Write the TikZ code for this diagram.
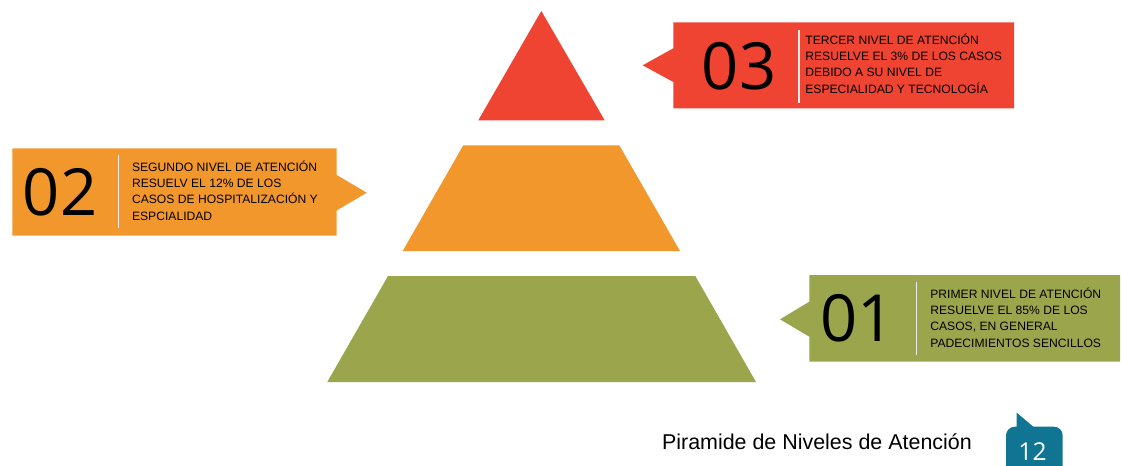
\documentclass[tikz,border=0pt]{standalone}
\usepackage{fontspec}
\setmainfont{Liberation Sans}
\newfontfamily\numfont{Open Sans}
\usepackage{tikz}
\definecolor{nivelrojo}{RGB}{240,68,51}
\definecolor{nivelnaranja}{RGB}{241,151,44}
\definecolor{nivelverde}{RGB}{155,165,75}
\definecolor{paginaazul}{RGB}{16,117,147}

\begin{document}
\begin{tikzpicture}[x=0.02cm,y=-0.02cm]
	
	\tikzset{bignum/.style={anchor=base,inner sep=0pt,font=\numfont\fontsize{37}{37}\selectfont}}
	\tikzset{infotext/.style={anchor=west,align=left,inner sep=0pt,font=\fontsize{6.9}{9.3}\selectfont}}
	\tikzset{divider/.style={white!85!gray,line width=0.6pt}}
	
	\useasboundingbox (0,0) rectangle (1122,466);
	
	% pyramid
	\fill[nivelrojo] (541.3,11) -- (604.7,120.3) -- (478.3,120.3) -- cycle;
	\fill[nivelnaranja] (463.3,145.3) -- (619.3,145.3) -- (680,251) -- (402.7,251) -- cycle;
	\fill[nivelverde] (388,276) -- (695.3,276) -- (756,382) -- (327.3,382) -- cycle;
	
	% level 03
	\fill[nivelrojo] (673.3,22.3) -- (1014,22.3) -- (1014,108.5) -- (673.3,108.5) -- (673.3,82) -- (642.7,65.3) -- (673.3,48.3) -- cycle;
	\node[bignum] (num03) at (739,90) {03};
	\draw[divider] (799,30) -- (799,103);
	\node[infotext] (txt03) at (805,63.5) {TERCER NIVEL DE ATENCIÓN\\RESUELVE EL 3\% DE LOS CASOS\\DEBIDO A SU NIVEL DE\\ESPECIALIDAD Y TECNOLOGÍA};
	
	% level 02
	\fill[nivelnaranja] (12.3,148.3) -- (336.7,148.3) -- (336.7,175) -- (366.7,192.7) -- (336.7,210.5) -- (336.7,235.5) -- (12.3,235.5) -- cycle;
	\node[bignum] (num02) at (60,215) {02};
	\draw[divider] (118.3,155) -- (118.3,228);
	\node[infotext] (txt02) at (131.7,190.5) {SEGUNDO NIVEL DE ATENCIÓN\\RESUELV EL 12\% DE LOS\\CASOS DE HOSPITALIZACIÓN Y\\ESPCIALIDAD};
	
	% level 01
	\fill[nivelverde] (809.3,275) -- (1120,275) -- (1120,361.7) -- (809.3,361.7) -- (809.3,336.7) -- (780,319.3) -- (809.3,301.7) -- cycle;
	\node[bignum] (num01) at (857.5,341.7) {01};
	\draw[divider] (916.7,281.7) -- (916.7,355);
	\node[infotext] (txt01) at (930,317.5) {PRIMER NIVEL DE ATENCIÓN\\RESUELVE EL 85\% DE LOS\\CASOS, EN GENERAL\\PADECIMIENTOS SENCILLOS};
	
	% footer
	\node[anchor=base west,inner sep=0pt,font=\fontsize{12.2}{14}\selectfont] (titulo) at (661.7,449) {Piramide de Niveles de Atención};
	\fill[paginaazul] (1006,466) {[rounded corners=5pt] -- (1006,426.7) -- (1062.7,426.7)} -- (1062.7,466) -- cycle;
	\fill[paginaazul] (1016.7,430) -- (1016.7,412.7) -- (1033.3,426.7) -- (1033.3,430) -- cycle;
	\node[anchor=base,inner sep=0pt,white,font=\numfont\fontsize{14}{14}\selectfont] (pagina) at (1032.5,460) {12};
	
\end{tikzpicture}
\end{document}
